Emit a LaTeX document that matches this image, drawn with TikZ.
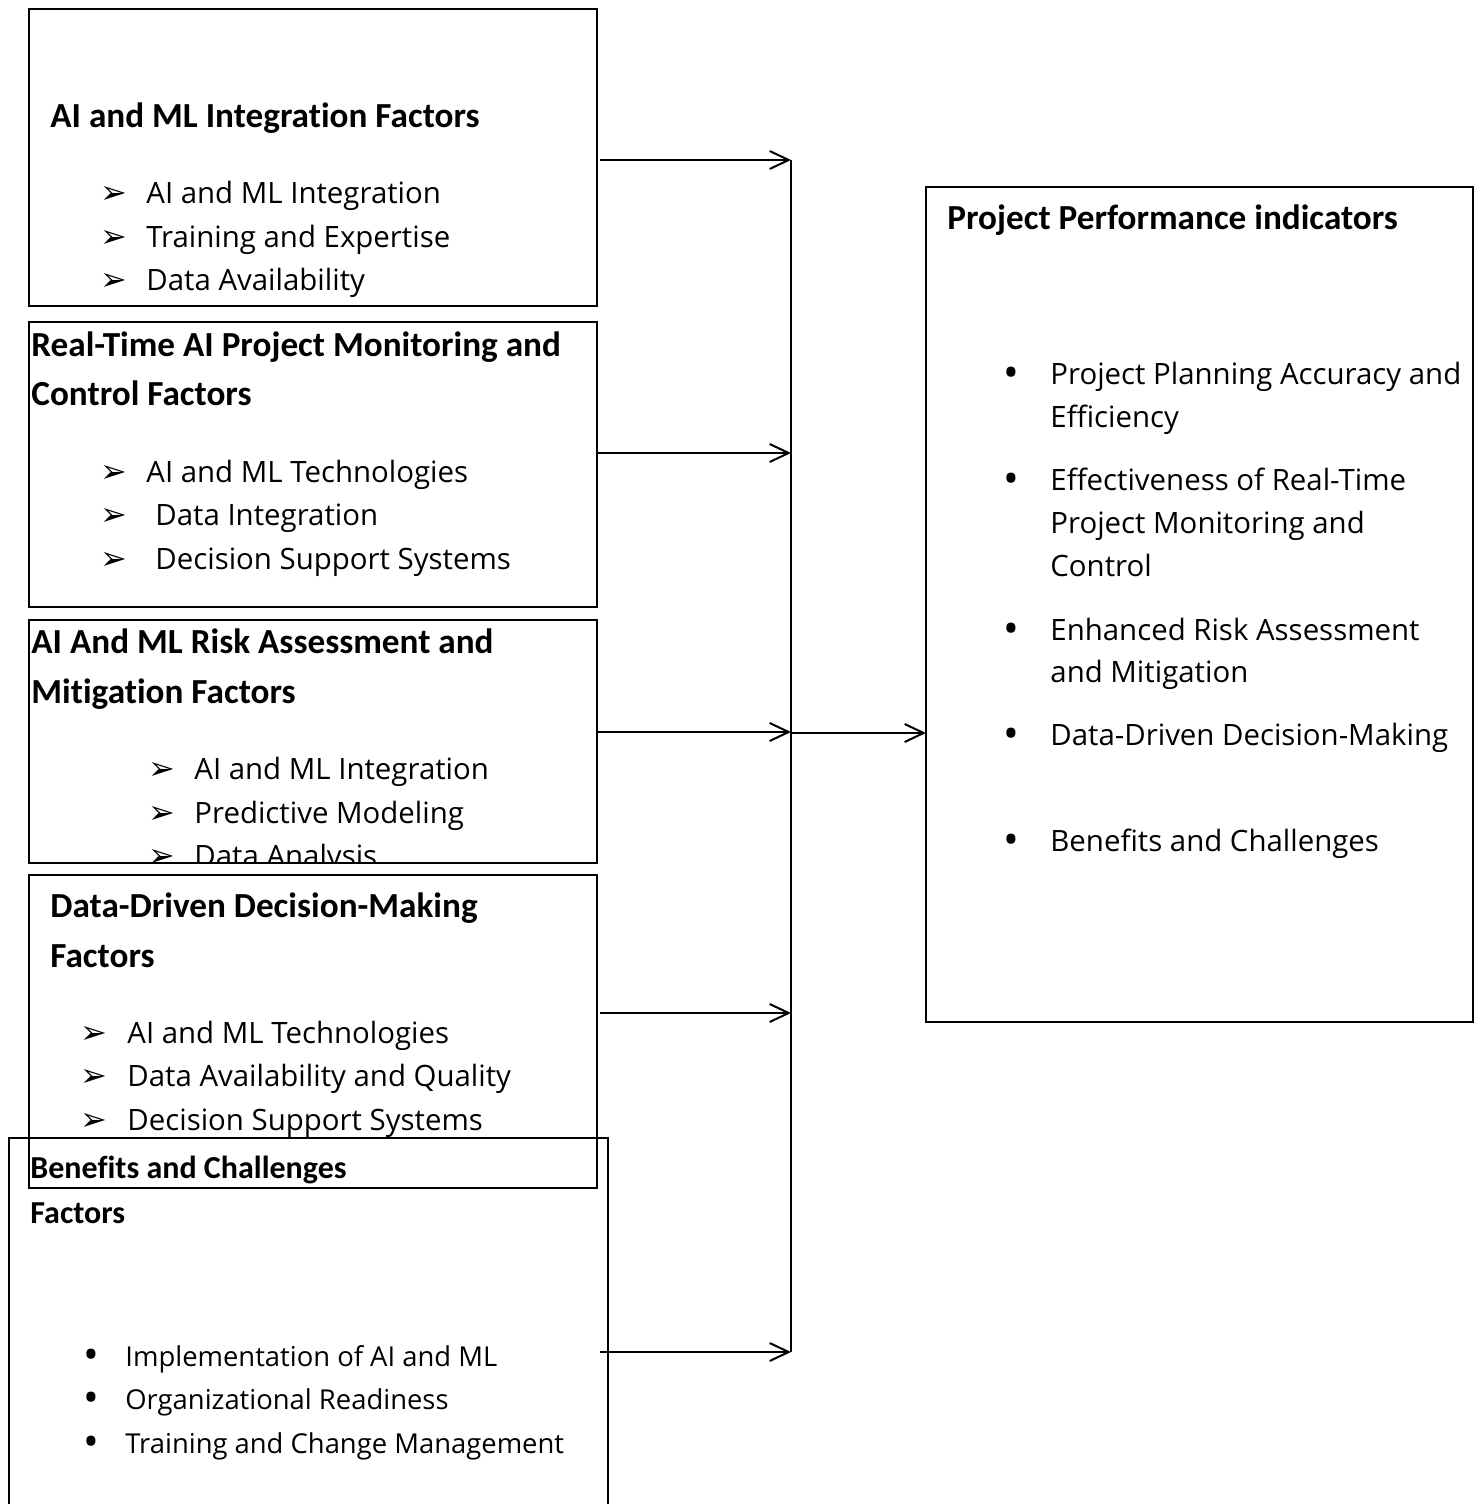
\documentclass[tikz,border=0pt]{standalone}
\usepackage{fontspec}
\setmainfont{Open Sans}
\newfontfamily\headfont[Ligatures=NoCommon]{Carlito}
\newfontfamily\symfont{DejaVu Sans}
\usepackage{tikz}
\usetikzlibrary{calc,arrows,arrows.meta,positioning}

\begin{document}
\begin{tikzpicture}[x=0.5pt,y=-0.5pt]
	\tikzstyle{fbox}=[draw, rectangle, line width=0.75pt, inner sep=0pt, outer sep=0pt]
	\tikzstyle{head}=[anchor=base west, inner sep=0pt, font=\headfont\bfseries\fontsize{17.6}{20}\selectfont]
	\tikzstyle{smallhead}=[head, font=\headfont\bfseries\fontsize{16}{18}\selectfont]
	\tikzstyle{item}=[anchor=base west, inner sep=0pt, font=\fontsize{14.7}{17}\selectfont]
	\tikzstyle{smallitem}=[item, font=\fontsize{13.7}{16}\selectfont]
	\tikzstyle{tip}=[anchor=base west, inner sep=0pt, font=\symfont\fontsize{16}{18}\selectfont]
	\tikzstyle{dot}=[anchor=base west, inner sep=0pt, font=\fontsize{21}{21}\selectfont]
	\tikzstyle{link}=[-{Straight Barb[length=9.5pt,width=9pt]}, line width=1pt]
	\useasboundingbox (0,0) rectangle (1480,1504);
	\clip (0,0) rectangle (1480,1504);
	% factor boxes
	\node[fbox, minimum width=284pt, minimum height=148.5pt] (fb1) at (313,157.5) {};
	\node[fbox, minimum width=284pt, minimum height=142.5pt] (fb2) at (313,464.5) {};
	\node[fbox, minimum width=284pt, minimum height=121.5pt] (fb3) at (313,741.5) {};
	\node[fbox, minimum width=284pt, minimum height=156.5pt] (fb4) at (313,1031.5) {};
	\node[fbox, minimum width=299.5pt, minimum height=191pt] (fb5) at (308.5,1329) {};
	\node[fbox, minimum width=273.5pt, minimum height=417.5pt] (ppi) at (1199.5,604.5) {};
	% box 1
	\node[head] (t1) at (50,127) {AI and ML Integration Factors};
	\foreach \y/\txt [count=\k] in {203/AI and ML Integration, 247/Training and Expertise, 290/Data Availability}{
		\node[tip] (a1\k) at (100,\y) {➢};
		\node[item] (i1\k) at (146,\y) {\txt};
	}
	% box 2
	\node[head] (t2a) at (31,356) {Real-Time AI Project Monitoring and};
	\node[head] (t2b) at (31,405) {Control Factors};
	\foreach \x/\y/\txt [count=\k] in {146/482/AI and ML Technologies, 155/525/Data Integration, 155/569/Decision Support Systems}{
		\node[tip] (a2\k) at (100,\y) {➢};
		\node[item] (i2\k) at (\x,\y) {\txt};
	}
	% box 3
	\node[head] (t3a) at (31,653) {AI And ML Risk Assessment and};
	\node[head] (t3b) at (31,703) {Mitigation Factors};
	\begin{scope}
		\clip (fb3.south west) rectangle (fb3.north east);
		\foreach \y/\txt [count=\k] in {779/AI and ML Integration, 823/Predictive Modeling, 866/Data Analysis}{
			\node[tip] (a3\k) at (148,\y) {➢};
			\node[item] (i3\k) at (194,\y) {\txt};
		}
	\end{scope}
	% box 4
	\node[head] (t4a) at (50,917) {Data-Driven Decision-Making};
	\node[head] (t4b) at (50,967) {Factors};
	\foreach \y/\txt [count=\k] in {1043/AI and ML Technologies, 1086/Data Availability and Quality, 1130/Decision Support Systems}{
		\node[tip] (a4\k) at (80,\y) {➢};
		\node[item] (i4\k) at (127,\y) {\txt};
	}
	% box 5
	\node[smallhead] (t5a) at (30,1178) {Benefits and Challenges};
	\node[smallhead] (t5b) at (30,1223) {Factors};
	\foreach \y/\txt [count=\k] in {1366/Implementation of AI and ML, 1409/Organizational Readiness, 1453/Training and Change Management}{
		\node[dot] (d5\k) at (83,\y+3) {•};
		\node[smallitem] (i5\k) at (125,\y) {\txt};
	}
	% indicators
	\node[head] (t6) at (947,229) {Project Performance indicators};
	\foreach \y in {384,490,640,745,851}{
		\node[dot] (d6\y) at (1003,\y+3) {•};
	}
	\foreach \y/\txt [count=\k] in {384/Project Planning Accuracy and, 427/Efficiency, 490/Effectiveness of Real-Time, 533/Project Monitoring and, 576/Control, 640/Enhanced Risk Assessment, 682/and Mitigation, 745/Data-Driven Decision-Making, 851/Benefits and Challenges}{
		\node[item] (i6\k) at (1050,\y) {\txt};
	}
	% connectors
	\coordinate (s1) at (600,160);
	\coordinate (s2) at (598,453);
	\coordinate (s3) at (597,732);
	\coordinate (s4) at (600,1013);
	\coordinate (s5) at (600,1352);
	\coordinate (bus) at (791,0);
	\coordinate (hub) at (791,733);
	\draw[line width=1.2pt] (s1 -| bus) -- (s5 -| bus);
	\foreach \s in {s1,s2,s3,s4,s5}{
		\draw[link] (\s) -- (\s -| bus);
	}
	\draw[link] (hub) -- (hub -| ppi.west);
\end{tikzpicture}
\end{document}
